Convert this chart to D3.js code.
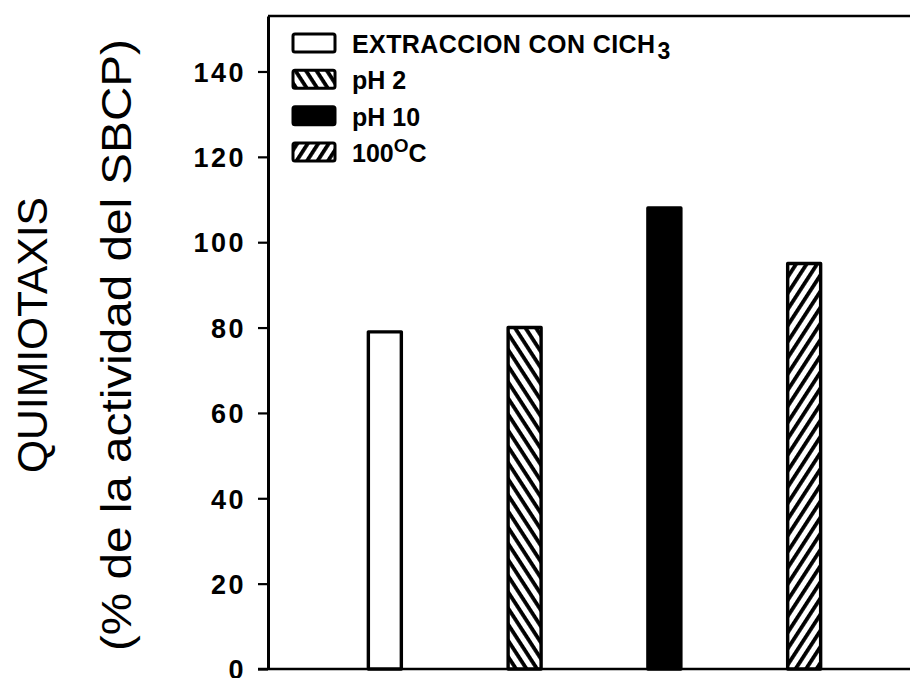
<!DOCTYPE html>
<html>
<head>
<meta charset="utf-8">
<script src="https://cdn.jsdelivr.net/npm/d3@7"></script>
<style>
  html, body { margin: 0; padding: 0; background: #fff; }
  svg { display: block; }
</style>
</head>
<body>
<div id="chart"></div>
<script>
// Chemotaxis activity after each treatment (% of SBCP activity)
const categories = ["EXTRACCION CON CICH3", "pH 2", "pH 10", "100°C"];
const values = [79, 80, 108, 95];
const fills = ["none", "hatchBack", "solid", "hatchFwd"];
const yTicks = [0, 20, 40, 60, 80, 100, 120, 140];

const W = 910, H = 678;
const svg = d3.select("#chart").append("svg")
  .attr("width", W).attr("height", H);

const defs = svg.append("defs");
function hatch(id, angle) {
  const p = defs.append("pattern")
    .attr("id", id)
    .attr("patternUnits", "userSpaceOnUse")
    .attr("width", 8.8).attr("height", 8.8)
    .attr("patternTransform", `rotate(${angle})`);
  p.append("rect").attr("width", 8.8).attr("height", 8.8).attr("fill", "#fff");
  p.append("rect").attr("y", 0).attr("width", 8.8).attr("height", 3.8).attr("fill", "#000");
}
hatch("hatchBack", 57);
hatch("hatchFwd", -57);

function fillFor(k) {
  if (k === "none") return "#fff";
  if (k === "solid") return "#000";
  return `url(#${k})`;
}

const y = d3.scaleLinear().domain([0, 153]).range([669, 16]);
const x = d3.scaleBand().domain(categories)
  .range([268, 921]).paddingInner(0.764).paddingOuter(0.718);

// frame top edge
svg.append("line")
  .attr("x1", 268).attr("x2", W).attr("y1", y(153)).attr("y2", y(153))
  .attr("stroke", "#000").attr("stroke-width", 2.5);

// x baseline
svg.append("line")
  .attr("x1", 258).attr("x2", W).attr("y1", y(0)).attr("y2", y(0))
  .attr("stroke", "#000").attr("stroke-width", 2.5);

// y axis
const yAxis = svg.append("g")
  .attr("transform", "translate(268,0)")
  .call(d3.axisLeft(y).tickValues(yTicks).tickSize(10).tickSizeOuter(0).tickPadding(12));
yAxis.select(".domain").attr("stroke-width", 3);
yAxis.selectAll(".tick line").attr("stroke-width", 2.2);
yAxis.selectAll(".tick text")
  .attr("font-family", "Liberation Sans, Arial, sans-serif")
  .attr("font-weight", "bold")
  .attr("font-size", 27)
  .attr("letter-spacing", 2.5)
  .attr("dy", "0.36em")
  .attr("fill", "#000");

// bars
svg.append("g").selectAll("rect")
  .data(categories)
  .join("rect")
  .attr("x", d => x(d))
  .attr("width", x.bandwidth())
  .attr("y", (d, i) => y(values[i]))
  .attr("height", (d, i) => y(0) - y(values[i]))
  .attr("fill", (d, i) => fillFor(fills[i]))
  .attr("stroke", "#000")
  .attr("stroke-width", 3.4)
  .attr("stroke-linejoin", "round");

// legend
const legend = svg.append("g");
const rowY = d3.scaleLinear().domain([0, 3]).range([53, 162]);
categories.forEach((c, i) => {
  const by = rowY(i);
  legend.append("rect")
    .attr("x", 293).attr("y", by - 19)
    .attr("width", 42).attr("height", 18)
    .attr("rx", 2)
    .attr("fill", fillFor(fills[i]))
    .attr("stroke", "#000").attr("stroke-width", 3);
  const t = legend.append("text")
    .attr("x", 352).attr("y", by)
    .attr("font-family", "Liberation Sans, Arial, sans-serif")
    .attr("font-weight", "bold")
    .attr("font-size", 25)
    .attr("fill", "#000");
  if (c === "EXTRACCION CON CICH3") {
    t.append("tspan").attr("textLength", 303).text("EXTRACCION CON CICH");
    t.append("tspan").attr("dy", 6).attr("dx", 2).attr("font-size", 23).text("3");
  } else if (c === "100°C") {
    t.append("tspan").text("100");
    t.append("tspan").attr("dy", -10).attr("font-size", 19).text("O");
    t.append("tspan").attr("dy", 10).text("C");
  } else {
    t.text(c.replace(" ", "\u00a0"));
  }
});

// y axis titles
svg.append("text")
  .attr("transform", "translate(47,335) rotate(-90)")
  .attr("text-anchor", "middle")
  .attr("font-family", "Liberation Sans, Arial, sans-serif")
  .attr("font-size", 42)
  .attr("textLength", 276)
  .attr("lengthAdjust", "spacingAndGlyphs")
  .attr("fill", "#000")
  .text("QUIMIOTAXIS");

svg.append("text")
  .attr("transform", "translate(131,345) rotate(-90)")
  .attr("text-anchor", "middle")
  .attr("font-family", "Liberation Sans, Arial, sans-serif")
  .attr("font-size", 42)
  .attr("textLength", 612)
  .attr("lengthAdjust", "spacingAndGlyphs")
  .attr("fill", "#000")
  .text("(% de la actividad del SBCP)");
</script>
</body>
</html>
